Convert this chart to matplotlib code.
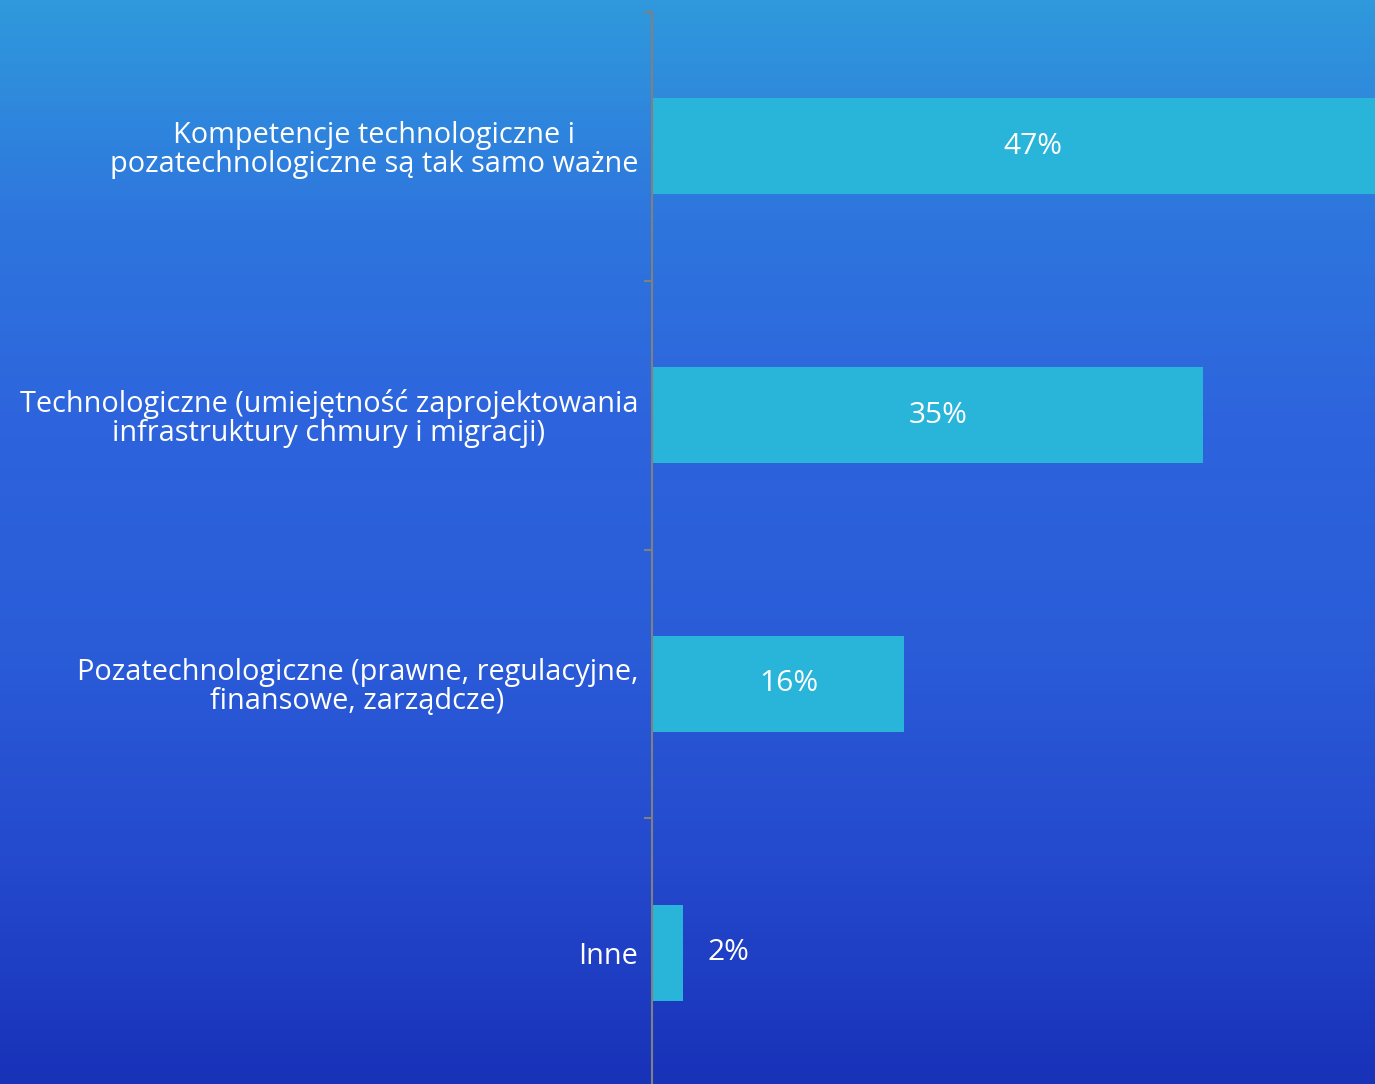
import numpy as np
import matplotlib.pyplot as plt
from matplotlib.colors import LinearSegmentedColormap

categories = [
    "Kompetencje technologiczne i\npozatechnologiczne są tak samo ważne",
    "Technologiczne (umiejętność zaprojektowania\ninfrastruktury chmury i migracji)",
    "Pozatechnologiczne (prawne, regulacyjne,\nfinansowe, zarządcze)",
    "Inne",
]
values = [47, 35, 16, 2]
labels = ["47%", "35%", "16%", "2%"]

plt.rcParams['font.family'] = ['Open Sans', 'DejaVu Sans']

fig = plt.figure(figsize=(13.75, 10.84), dpi=100)

# background gradient
bg = fig.add_axes([0, 0, 1, 1], zorder=0)
grad = LinearSegmentedColormap.from_list(
    "bg", ["#3099dc", "#2e76de", "#2d63dd", "#2a5cd8", "#2449cd", "#1832b8"])
bg.imshow(np.linspace(0, 1, 256).reshape(-1, 1), aspect='auto', cmap=grad,
          extent=[0, 1, 0, 1])
bg.axis('off')

ax = fig.add_axes([652 / 1375, -3 / 1084, 1 - 652 / 1375, 1075 / 1084], zorder=1)
ax.patch.set_alpha(0)

y = np.arange(len(categories))
ax.barh(y, values, height=0.357, color="#29b5da")
ax.set_xlim(0, 45.93)
ax.set_ylim(len(categories) - 0.5, -0.5)

ax.set_yticks(y)
ax.set_yticklabels(categories, ha='right', multialignment='center',
                   color='white', fontsize=20.8, linespacing=1.0)
ax.tick_params(axis='y', which='major', length=0, pad=10)
ax.set_yticks(np.arange(len(categories) + 1) - 0.5, minor=True)
ax.tick_params(axis='y', which='minor', length=6, color='#808080', width=1.5)
ax.set_xticks([])

for s in ['top', 'right', 'bottom']:
    ax.spines[s].set_visible(False)
ax.spines['left'].set_color('#808080')
ax.spines['left'].set_linewidth(1.5)

for i, (v, lab) in enumerate(zip(values, labels)):
    if v > 5:
        ax.text(v / 2 + 0.7, i, lab, ha='center', va='center', color='white',
                fontsize=21.5)
    else:
        ax.annotate(lab, (v, i), xytext=(17, 0), textcoords='offset points',
                    ha='left', va='center', color='white', fontsize=21.5)

fig.savefig("out.png", dpi=100)
